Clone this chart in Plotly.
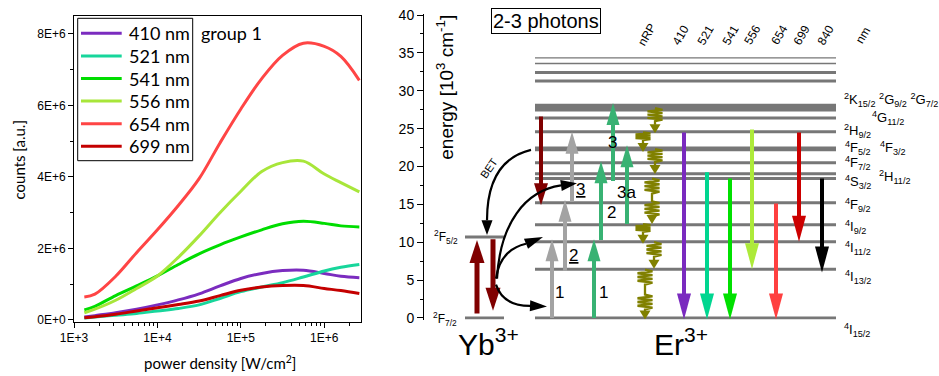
import numpy as np
import plotly.graph_objects as go

W, H = 939, 376
ARIAL = "Liberation Sans, Arial, sans-serif"
CAL = "Lato, Open Sans, sans-serif"

# ---------------- data: left panel ----------------
POWER_DENSITY = [1.33e3, 1.78e3, 3.16e3, 5.62e3, 1e4, 1.78e4, 3.16e4, 5.62e4, 1e5, 1.78e5,
                 3.16e5, 5.62e5, 1e6, 1.58e6, 2.63e6]
COUNTS_410 = [0.08e6, 0.12e6, 0.20e6, 0.30e6, 0.42e6, 0.56e6, 0.73e6, 0.95e6, 1.16e6, 1.30e6,
              1.38e6, 1.39e6, 1.30e6, 1.22e6, 1.18e6]
COUNTS_521 = [0.05e6, 0.08e6, 0.13e6, 0.18e6, 0.25e6, 0.32e6, 0.42e6, 0.60e6, 0.79e6, 0.92e6,
              1.04e6, 1.20e6, 1.37e6, 1.47e6, 1.55e6]
COUNTS_541 = [0.28e6, 0.38e6, 0.68e6, 0.95e6, 1.23e6, 1.55e6, 1.85e6, 2.10e6, 2.32e6, 2.52e6,
              2.69e6, 2.76e6, 2.70e6, 2.63e6, 2.60e6]
COUNTS_556 = [0.20e6, 0.30e6, 0.55e6, 0.88e6, 1.23e6, 1.75e6, 2.35e6, 3.00e6, 3.60e6, 4.15e6,
              4.40e6, 4.44e6, 4.08e6, 3.84e6, 3.58e6]
COUNTS_654 = [0.64e6, 0.72e6, 1.22e6, 1.88e6, 2.52e6, 3.20e6, 3.95e6, 4.95e6, 5.90e6, 6.75e6,
              7.40e6, 7.74e6, 7.65e6, 7.37e6, 6.70e6]
COUNTS_699 = [0.06e6, 0.09e6, 0.16e6, 0.25e6, 0.34e6, 0.43e6, 0.53e6, 0.68e6, 0.83e6, 0.92e6,
              0.96e6, 0.96e6, 0.88e6, 0.82e6, 0.74e6]
SERIES_NAMES = ["410 nm", "521 nm", "541 nm", "556 nm", "654 nm", "699 nm"]
SERIES = [COUNTS_410, COUNTS_521, COUNTS_541, COUNTS_556, COUNTS_654, COUNTS_699]
X_TICK_VALS = [1e3, 1e4, 1e5, 1e6]
X_TICK_TEXT = ["1E+3", "1E+4", "1E+5", "1E+6"]
Y_TICK_VALS = [0, 2e6, 4e6, 6e6, 8e6]
Y_TICK_TEXT = ["0E+0", "2E+6", "4E+6", "6E+6", "8E+6"]
LEGEND_TITLE = "group 1"

# ---------------- data: right panel (energies in 10^3 cm^-1) ----------------
ER_LEVELS = [0, 6.45, 10.05, 12.3, 15.2, 18.4, 19.05, 20.5, 22.2, 22.45, 24.6, 26.4,
             27.45, 27.8, 28.1, 31.3, 32.4, 33.6, 34.35]
YB_LEVELS = [0, 10.7]
YB_LABELS = ["<sup>2</sup>F<sub>7/2</sub>", "<sup>2</sup>F<sub>5/2</sub>"]
ER_TERM_LABELS = ["<sup>2</sup>K<sub>15/2</sub> <sup>2</sup>G<sub>9/2</sub> <sup>2</sup>G<sub>7/2</sub>",
                  "<sup>4</sup>G<sub>11/2</sub>", "<sup>2</sup>H<sub>9/2</sub>",
                  "<sup>4</sup>F<sub>5/2</sub>", "<sup>4</sup>F<sub>3/2</sub>",
                  "<sup>4</sup>F<sub>7/2</sub>", "<sup>2</sup>H<sub>11/2</sub>",
                  "<sup>4</sup>S<sub>3/2</sub>", "<sup>4</sup>F<sub>9/2</sub>",
                  "<sup>4</sup>I<sub>9/2</sub>", "<sup>4</sup>I<sub>11/2</sub>",
                  "<sup>4</sup>I<sub>13/2</sub>", "<sup>4</sup>I<sub>15/2</sub>"]
EMISSION_NM = ["410", "521", "541", "556", "654", "699", "840"]
EMISSION_FROM = [24.5, 19.25, 18.4, 24.9, 15.1, 24.5, 18.4]
EMISSION_TO = [-0.2, -0.2, -0.2, 6.45, -0.2, 10.05, 6.0]
GRAY_STEPS_FROM = [0.0, 6.2, 15.3]
GRAY_STEPS_TO = [10.4, 15.6, 24.6]
GREEN_STEPS_FROM = [0.0, 10.3, 18.1, 12.4]
GREEN_STEPS_TO = [10.4, 20.7, 28.4, 22.8]
NRP_FROM = [27.7, 24.5, 22.3, 18.4, 12.4, 10.0, 6.4]
NRP_TO = [24.4, 21.9, 19.0, 12.4, 9.8, 6.5, -0.2]
BET_FROM, BET_TO = 26.6, 14.9
YB_ABS = (0.6, 10.3)
YB_EMI = (10.4, 0.96)

# ---------------- styles / layout positions ----------------
C_SERIES = ["#7B2CBF", "#17D69B", "#00DD00", "#A8E63A", "#FF4545", "#C40000"]
C_EMIS = ["#7A2ABF", "#00D690", "#00E000", "#ADEA3A", "#FF4040", "#CC0000", "#000000"]
C_LEVEL = "#777777"
C_GRAY = "#A3A3A3"
C_GREEN = "#38B273"
C_DRED = "#800000"
C_OLIVE = "#808000"

EMIS_X = [684, 707, 730, 752, 776, 799, 822]
GRAY_X = [552, 565, 572]
GREEN_X = [594, 601, 613, 627]
NRP_X = [655, 643, 655, 652, 643, 654, 645]
ER_X0, ER_X1 = 535, 836
YB_X0, YB_X1 = 465, 504

# right axis geometry
Y2_RANGE = [-0.2, 40.2]
Y2_TOP_PX, Y2_BOT_PX = 13.5, 319.5
SC = (Y2_BOT_PX - Y2_TOP_PX) / (Y2_RANGE[1] - Y2_RANGE[0])  # px per energy unit


def px(x):
    return x / W


def py(y):
    return 1 - y / H


def e2paper(e):
    return py(Y2_BOT_PX - (e - Y2_RANGE[0]) * SC)


fig = go.Figure()
for name, ys, c in zip(SERIES_NAMES, SERIES, C_SERIES):
    fig.add_trace(go.Scatter(x=POWER_DENSITY, y=ys, mode="lines", name=name,
                             line=dict(color=c, width=3, shape="spline", smoothing=1.0),
                             showlegend=False, xaxis="x", yaxis="y"))

shapes = []
annotations = []


def seg(x0, y0, x1, y1, color, width):
    shapes.append(dict(type="line", xref="x2", yref="y2", x0=x0, y0=y0, x1=x1, y1=y1,
                       line=dict(color=color, width=width)))


def tri(tip, base, width, color):
    tx, te = tip
    bx, be = base
    dx = tx - bx
    dy = (te - be) * SC
    L = float(np.hypot(dx, dy))
    ux, uy = dx / L, dy / L
    nx, ny = -uy, ux
    h = width / 2
    p1 = (bx + nx * h, be + ny * h / SC)
    p2 = (bx - nx * h, be - ny * h / SC)
    path = f"M{tx},{te} L{p1[0]},{p1[1]} L{p2[0]},{p2[1]} Z"
    shapes.append(dict(type="path", xref="x2", yref="y2", path=path, fillcolor=color,
                       line=dict(width=0)))


def straight_arrow(x, e0, e1, color, lw=4, hw=14, hl=23):
    d = 1 if e1 > e0 else -1
    base = e1 - d * hl / SC
    seg(x, e0, x, base + d * 1.0 / SC, color, lw)
    tri((x, e1), (x, base), hw, color)


def curve_arrow(pts, tip, color="black", lw=2.2, hw=11):
    if len(pts) == 3:
        path = f"M{pts[0][0]},{pts[0][1]} Q{pts[1][0]},{pts[1][1]} {pts[2][0]},{pts[2][1]}"
    else:
        path = (f"M{pts[0][0]},{pts[0][1]} C{pts[1][0]},{pts[1][1]} "
                f"{pts[2][0]},{pts[2][1]} {pts[3][0]},{pts[3][1]}")
    shapes.append(dict(type="path", xref="x2", yref="y2", path=path,
                       line=dict(color=color, width=lw), fillcolor="rgba(0,0,0,0)"))
    tri(tip, pts[-1], hw, color)


def zigzag(x, e0, e1, color=C_OLIVE, lw=2.3, amp=7.5, hl=9, hw=11):
    L = (e0 - e1) * SC
    blocks = 1 if L < 35 else 2
    bh = min(15.0, (L - hl - 3) / blocks)
    pts = [(x, e0)]
    for b in range(blocks):
        start = b * (L / blocks)
        n = 8
        if b > 0:
            pts.append((x, e0 - start / SC))
        for k in range(1, n + 1):
            yo = start + bh * k / n
            xo = 0 if k == n else (amp if k % 2 == 1 else -amp)
            pts.append((x + xo, e0 - yo / SC))
    base = e1 + hl / SC
    pts.append((x, base - 0.5 / SC))
    path = "M" + " L".join(f"{a},{b}" for a, b in pts)
    shapes.append(dict(type="path", xref="x2", yref="y2", path=path,
                       line=dict(color=color, width=lw), fillcolor="rgba(0,0,0,0)"))
    tri((x, e1), (x, base), hw, color)


def ann(text, x, y, size, xref="x2", yref="y2", xanchor="center", yanchor="middle",
        angle=0, family=ARIAL, **kw):
    annotations.append(dict(text=text, x=x, y=y, xref=xref, yref=yref, xanchor=xanchor,
                            yanchor=yanchor, textangle=angle, showarrow=False,
                            font=dict(family=family, size=size, color="black"), **kw))


def ann_e(text, x, e, size, **kw):
    """annotation at diagram x (px) and energy e, placed in paper coordinates"""
    ann(text, px(x), e2paper(e), size, xref="paper", yref="paper", **kw)


# ---- energy levels ----
for e in ER_LEVELS:
    seg(ER_X0, e, ER_X1, e, C_LEVEL, 1.3 if e > 33 else 3)
for e in YB_LEVELS:
    seg(YB_X0, e, YB_X1, e, C_LEVEL, 3)

# ---- Yb arrows ----
straight_arrow(477, YB_ABS[0], YB_ABS[1], C_DRED, lw=5, hw=15, hl=23)
straight_arrow(493, YB_EMI[0], YB_EMI[1], C_DRED, lw=5, hw=15, hl=23)

# ---- Er back-transfer dark red ----
straight_arrow(541, BET_FROM, BET_TO, C_DRED, lw=4, hw=14, hl=22)

# ---- excitation arrows ----
for x, a, b in zip(GRAY_X, GRAY_STEPS_FROM, GRAY_STEPS_TO):
    straight_arrow(x, a, b, C_GRAY, lw=4, hw=13, hl=22)
for x, a, b in zip(GREEN_X, GREEN_STEPS_FROM, GREEN_STEPS_TO):
    straight_arrow(x, a, b, C_GREEN, lw=4, hw=13, hl=22)

# ---- non-radiative relaxation ----
for x, a, b in zip(NRP_X, NRP_FROM, NRP_TO):
    zigzag(x, a, b)

# ---- emission arrows ----
for x, a, b, c in zip(EMIS_X, EMISSION_FROM, EMISSION_TO, C_EMIS):
    straight_arrow(x, a, b, c, lw=4, hw=14, hl=26)

# ---- energy transfer curves ----
curve_arrow([(531, 22.2), (487, 20.8), (487, 12.9)], (487, 10.95))          # BET
curve_arrow([(496, 4.4), (503, 1.6), (530, 1.6)], (547, 1.5))               # step 1
curve_arrow([(496, 5.2), (500, 9.0), (526, 9.8)], (543, 10.7))              # step 2
curve_arrow([(497, 5.2), (500, 12.5), (525, 16.8), (561, 17.5)], (577, 17.8))  # step 3

# ---------------- annotations: right panel ----------------
ann_e("2-3 photons", 546, 39.15, 20, bordercolor="black", borderwidth=1, borderpad=1)
COL_X = [647, 681, 706, 731, 752.5, 779.5, 802, 826, 863.5]
for t, x in zip(["nRP"] + EMISSION_NM + ["nm"], COL_X):
    ann_e(t, x, 37.3, 12, angle=-60)
TERM_POS = [(842, 28.8), (870, 26.4), (842, 24.7), (843, 22.4), (878, 22.4), (843, 20.5),
            (877, 18.6), (843, 18.0), (843, 14.9), (843, 12.0), (843, 9.2), (843, 5.4),
            (842, -1.6)]
for t, (x, y) in zip(ER_TERM_LABELS, TERM_POS):
    ann_e(t, x, y, 13, xanchor="left")
ann_e(YB_LABELS[1], 460, YB_LEVELS[1], 12, xanchor="right")
ann_e(YB_LABELS[0], 459, YB_LEVELS[0] - 0.15, 12, xanchor="right")
ann_e("Yb<sup>3+</sup>", 488, -3.2, 30)
ann_e("Er<sup>3+</sup>", 681, -3.2, 30)
for t, x, y in [("1", 559, 3.4), ("1", 603, 3.4), ("<u>2</u>", 573, 8.3), ("2", 611, 13.9),
                ("<u>3</u>", 580, 16.9), ("3", 612, 23.2), ("3a", 626, 16.6)]:
    ann_e(t, x, y, 17)
ann_e("BET", 489, 19.8, 11, angle=-55)
ann_e("energy [10<sup>3</sup> cm<sup>-1</sup>]", 445, 30.4, 19, angle=-90)

# ---------------- left panel: legend & titles ----------------
shapes.append(dict(type="rect", xref="paper", yref="paper", x0=px(77.7), x1=px(192.7),
                   y0=py(18.3), y1=py(160.7), line=dict(color="black", width=1),
                   fillcolor="white", layer="above"))
for i, (name, c) in enumerate(zip(SERIES_NAMES, C_SERIES)):
    yy = 33.3 + 22.6 * i
    shapes.append(dict(type="line", xref="paper", yref="paper", x0=px(81), x1=px(121.7),
                       y0=py(yy), y1=py(yy), line=dict(color=c, width=3)))
    ann(name, px(127), py(yy), 18, xref="paper", yref="paper", xanchor="left", family=CAL)
ann(LEGEND_TITLE, px(199), py(33), 18, xref="paper", yref="paper", xanchor="left", family=CAL)
ann("counts [a.u.]", px(18.5), py(160), 15, xref="paper", yref="paper", angle=-90, family=CAL)
ann("power density [W/cm<sup>2</sup>]", px(220), py(362), 15, xref="paper", yref="paper",
    family=CAL)

minor_x = [m * 10 ** d for d in range(3, 7) for m in range(2, 10) if m * 10 ** d < 2.8e6]

fig.update_layout(
    template="none",
    width=W, height=H, margin=dict(l=0, r=0, t=0, b=0, autoexpand=False),
    paper_bgcolor="white", plot_bgcolor="white", showlegend=False,
    font=dict(family=ARIAL, color="black"),
    xaxis=dict(domain=[px(74), px(361)], type="log", range=[3, 6.44], anchor="y",
               automargin=False,
               tickvals=X_TICK_VALS, ticktext=X_TICK_TEXT, ticks="outside", ticklen=5,
               tickcolor="black", showline=True, linecolor="black", linewidth=1,
               mirror=True, showgrid=False, zeroline=False,
               tickfont=dict(family=ARIAL, size=12, color="black"),
               minor=dict(tickvals=minor_x, ticks="outside", ticklen=3, tickcolor="black",
                          showgrid=False)),
    yaxis=dict(domain=[py(321.7), py(16)], range=[-0.05e6, 8.5e6], anchor="x",
               automargin=False,
               tickvals=Y_TICK_VALS, ticktext=Y_TICK_TEXT, ticks="outside", ticklen=5,
               tickcolor="black", showline=True, linecolor="black", linewidth=1,
               mirror=True, showgrid=False, zeroline=False,
               tickfont=dict(family=ARIAL, size=12, color="black"),
               minor=dict(tickvals=[1e6, 3e6, 5e6, 7e6], ticks="outside", ticklen=3,
                          tickcolor="black", showgrid=False)),
    xaxis2=dict(domain=[px(424), 1], range=[424, 939], anchor="y2", visible=False,
                automargin=False),
    yaxis2=dict(domain=[py(Y2_BOT_PX), py(Y2_TOP_PX)], range=Y2_RANGE, anchor="x2",
                automargin=False,
                side="left", dtick=5, tick0=0, ticks="outside", ticklen=6,
                tickcolor="black", showline=True, linecolor="black", linewidth=1,
                showgrid=False, zeroline=False,
                tickfont=dict(family=ARIAL, size=14, color="black"),
                minor=dict(dtick=2.5, ticks="outside", ticklen=3, tickcolor="black",
                           showgrid=False)),
    shapes=shapes, annotations=annotations,
)

fig.write_html("out.html")
